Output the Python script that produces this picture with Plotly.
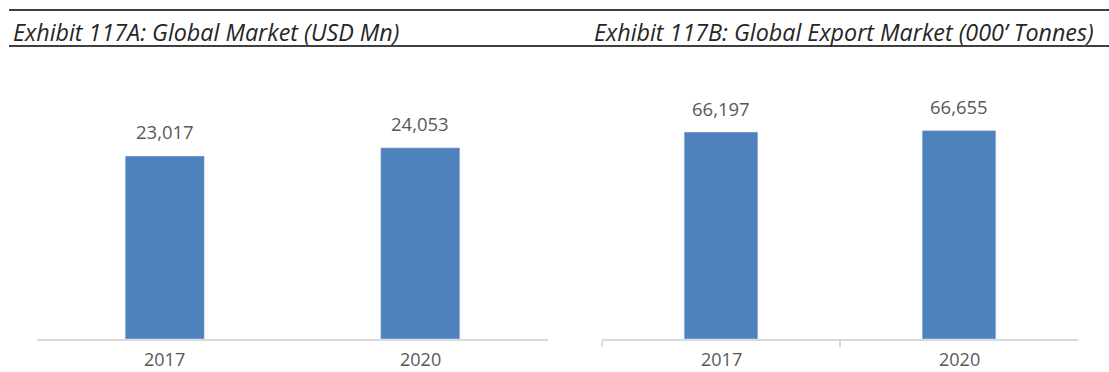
import plotly.graph_objects as go

# Exhibit data
years = ["2017", "2020"]
market_usd_mn = [23017, 24053]
export_kt = [66197, 66655]

title_a = "Exhibit 117A: Global Market (USD Mn)"
title_b = "Exhibit 117B: Global Export Market (000\u2019 Tonnes)"

W, H = 1109, 372
BAR = "#4f81bd"
TXT = "#595959"
FONT = "Open Sans"


def px(x):
    return x / W


def py(y):
    return 1 - y / H


fig = go.Figure()
fig.add_trace(go.Bar(x=years, y=market_usd_mn, width=0.31, marker_color=BAR,
                     xaxis="x", yaxis="y", showlegend=False))
fig.add_trace(go.Bar(x=years, y=export_kt, width=0.31, marker_color=BAR,
                     xaxis="x2", yaxis="y2", showlegend=False))

annotations = []
for xa, ya, vals in (("x", "y", market_usd_mn), ("x2", "y2", export_kt)):
    # category positions are addressed by index on the category axis
    for i, (yr, v) in enumerate(zip(years, vals)):
        # value label above each bar
        annotations.append(dict(x=i, y=v, xref=xa, yref=ya, text=f"{v:,}",
                                showarrow=False, yanchor="middle", yshift=24,
                                font=dict(family=FONT, size=18.5, color=TXT)))
        # category label below the axis
        annotations.append(dict(x=i, y=0, xref=xa, yref=ya, text=yr,
                                showarrow=False, yanchor="middle", yshift=-20,
                                borderpad=0,
                                font=dict(family=FONT, size=18, color=TXT)))

title_font = dict(family=FONT, size=23.3, color="#262626", style="italic")
annotations.append(dict(x=px(11), y=py(32), xref="paper", yref="paper", text=title_a,
                        showarrow=False, xanchor="left", yanchor="middle", font=title_font))
annotations.append(dict(x=px(1096), y=py(32), xref="paper", yref="paper", text=title_b,
                        showarrow=False, xanchor="right", yanchor="middle", font=title_font))

shapes = [
    dict(type="line", xref="paper", yref="paper", x0=px(9), x1=1, y0=py(10), y1=py(10),
         line=dict(color="#404040", width=2)),
    dict(type="line", xref="paper", yref="paper", x0=px(9), x1=1, y0=py(46), y1=py(46),
         line=dict(color="#404040", width=2)),
]

ydom = [py(339), py(60)]
common_x = dict(type="category", range=[-0.5, 1.5], showgrid=False, zeroline=False,
                showline=True, linecolor="#d9d9d9", linewidth=1.5, fixedrange=True,
                showticklabels=False)
common_y = dict(visible=False, showgrid=False, zeroline=False, fixedrange=True, domain=ydom)

fig.update_layout(
    width=W, height=H,
    margin=dict(l=0, r=0, t=0, b=0),
    paper_bgcolor="white", plot_bgcolor="white",
    xaxis=dict(domain=[px(37), px(548)], anchor="y", ticks="", **common_x),
    yaxis=dict(anchor="x", range=[0, 35090], **common_y),
    xaxis2=dict(domain=[px(602), px(1078)], anchor="y2", ticks="outside",
                tickson="boundaries", ticklen=6, tickcolor="#d9d9d9", tickwidth=1.5,
                **common_x),
    yaxis2=dict(anchor="x2", range=[0, 89220], **common_y),
    annotations=annotations,
    shapes=shapes,
)

fig.write_html("out.html")
